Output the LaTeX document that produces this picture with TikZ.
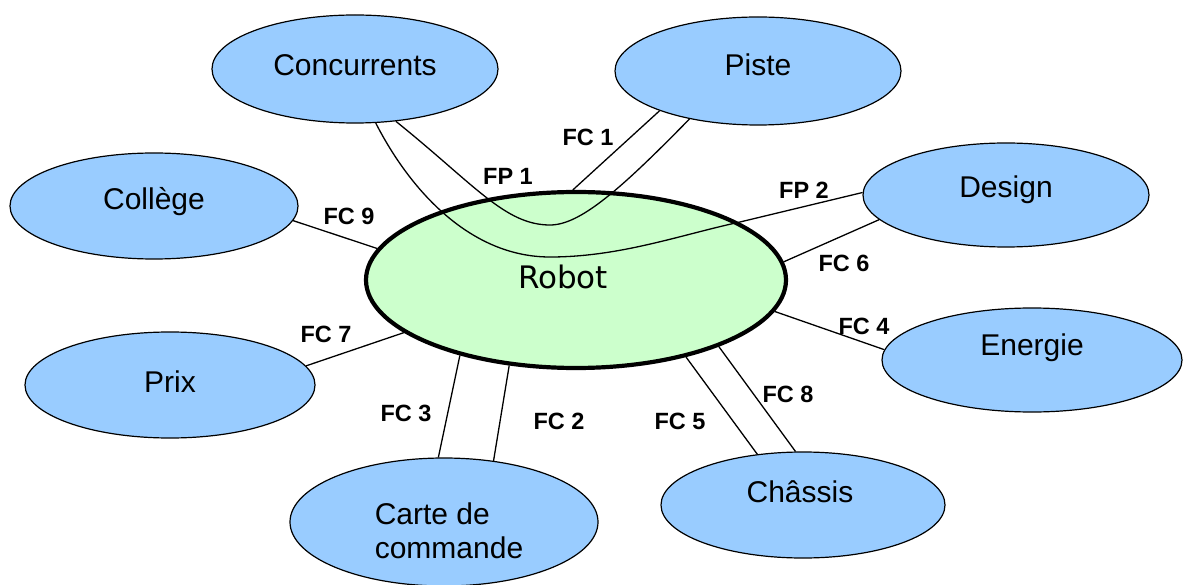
\documentclass[tikz,border=0pt]{standalone}
\usepackage{fontspec}
\setmainfont{Liberation Sans}
\newfontfamily\robotfont{DejaVu Sans}
\usetikzlibrary{shapes.geometric}
\definecolor{bluefill}{HTML}{99CCFF}
\definecolor{greenfill}{HTML}{CCFFCC}
\tikzset{
  bubble/.style={ellipse, draw=black, line width=1.2pt, fill=bluefill, inner sep=0pt},
  core/.style={ellipse, draw=black, line width=4.2pt, fill=greenfill, inner sep=0pt},
  txt/.style={font=\fontsize{30}{34}\selectfont},
  lab/.style={font=\bfseries\fontsize{23.5}{28}\selectfont, inner sep=0pt},
  link/.style={draw=black, line width=1.3pt}
}
\begin{document}
\begin{tikzpicture}[x=1pt,y=-1pt]
\useasboundingbox (0,0) rectangle (1183,585);
% nodes
\node[core, minimum width=420pt, minimum height=176pt,
      label={[font=\robotfont\fontsize{31}{36}\selectfont, xshift=-13pt, yshift=3pt]center:Robot}] (robot) at (576,280) {};
\node[bubble, minimum width=286pt, minimum height=108pt,
      label={[txt, yshift=4pt]center:Concurrents}] (conc) at (355,69) {};
\node[bubble, minimum width=286pt, minimum height=108pt,
      label={[txt, yshift=6pt]center:Piste}] (piste) at (758,71) {};
\node[bubble, minimum width=288pt, minimum height=106pt,
      label={[txt, yshift=4pt]center:Collège}] (college) at (154,206) {};
\node[bubble, minimum width=286pt, minimum height=104pt,
      label={[txt, yshift=5pt]center:Design}] (design) at (1006,195) {};
\node[bubble, minimum width=290pt, minimum height=106pt,
      label={[txt, yshift=3pt]center:Prix}] (prix) at (170,385) {};
\node[bubble, minimum width=300pt, minimum height=104pt,
      label={[txt, yshift=12pt]center:Energie}] (energie) at (1032,360) {};
\node[bubble, minimum width=308pt, minimum height=128pt,
      label={[txt, align=left, xshift=5pt, yshift=-9pt]center:{Carte de\\commande}}] (carte) at (444,522) {};
\node[bubble, minimum width=284pt, minimum height=106pt,
      label={[txt, xshift=-3pt, yshift=13pt]center:Châssis}] (chassis) at (803,505) {};
% connectors
\draw[link] (piste.202.6) -- (robot.92.6);
\draw[link] (college.-6.5) -- (robot.171.5);
\draw[link] (prix.8.2) -- (robot.-163.7);
\draw[link] (robot.-147.8) -- (carte.95.4);
\draw[link] (robot.-128.5) -- (carte.51.7);
\draw[link] (robot.-35.7) -- (chassis.132.3);
\draw[link] (robot.-25.4) -- (chassis.98.3);
\draw[link] (robot.-9.1) -- (energie.176.9);
\draw[link] (robot.5.6) -- (design.191.6);
\draw[link] (conc.-52.3) .. controls (475,185) and (505,225) .. (550,225)
            .. controls (580,225) and (620,190) .. (piste.215.3);
\draw[link] (conc.-69.3) .. controls (410,190) and (470,257) .. (550,257)
            .. controls (620,257) and (680,235) .. (740,222) -- (design.179.2);
% labels
\node[lab] (l1) at (588,137) {FC 1};
\node[lab] (lp1) at (508,176) {FP 1};
\node[lab] (lp2) at (804,190) {FP 2};
\node[lab] (l6) at (844,263) {FC 6};
\node[lab] (l9) at (349,216) {FC 9};
\node[lab] (l7) at (326,334) {FC 7};
\node[lab] (l3) at (406,413) {FC 3};
\node[lab] (l2) at (559,421) {FC 2};
\node[lab] (l5) at (680,421) {FC 5};
\node[lab] (l8) at (788,394) {FC 8};
\node[lab] (l4) at (864,326) {FC 4};
\end{tikzpicture}
\end{document}
